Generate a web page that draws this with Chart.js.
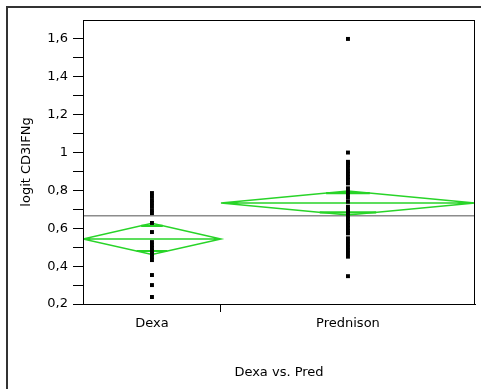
<!DOCTYPE html>
<html>
<head>
<meta charset="utf-8">
<script src="https://cdn.jsdelivr.net/npm/chart.js@4"></script>
<style>
html, body { margin: 0; padding: 0; background: #fff; overflow: hidden; }
#caixa { position: absolute; left: 0; top: 0; width: 481px; height: 389px; }
</style>
</head>
<body>
<div id="caixa"><canvas id="grafico"></canvas></div>
<script>
// dados
var grupos = ['Dexa', 'Prednison'];
var valoresDexa = [0.786, 0.768, 0.749, 0.733, 0.715, 0.696, 0.680, 0.628, 0.580,
    0.527, 0.511, 0.496, 0.480, 0.464, 0.448, 0.432, 0.353, 0.300, 0.237];
var valoresPred = [1.6, 1.0, 0.951, 0.943, 0.935, 0.919, 0.903, 0.887, 0.871, 0.855,
    0.837, 0.811, 0.793, 0.777, 0.761, 0.740, 0.714, 0.698, 0.690, 0.682, 0.666,
    0.650, 0.634, 0.618, 0.602, 0.586, 0.573, 0.547, 0.531, 0.515, 0.499, 0.483,
    0.467, 0.450, 0.347];
var medias = [0.543, 0.733];
var limiteSup = [0.626, 0.797];
var limiteInf = [0.462, 0.670];
var marcaSup = [0.613, 0.786];
var marcaInf = [0.480, 0.684];
var mediaGeral = 0.666;
var valoresTicksY = [0.2, 0.4, 0.6, 0.8, 1.0, 1.2, 1.4, 1.6];
var rotulosY = ['0,2', '0,4', '0,6', '0,8', '1', '1,2', '1,4', '1,6'];
var tituloY = 'logit CD3IFNg';
var tituloX = 'Dexa vs. Pred';

var verde = 'rgb(40,212,40)';
var amostras = [valoresDexa, valoresPred];
var total = valoresDexa.length + valoresPred.length;
var divisa = valoresDexa.length / total;
var inicios = [0, divisa];
var larguras = [divisa, 1 - divisa];
var centros = [divisa / 2, divisa + (1 - divisa) / 2];

var conjuntos = [];

// pontos (desenhados por cima)
for (let g = 0; g < grupos.length; g++) {
    conjuntos.push({
        type: 'scatter',
        data: amostras[g].map(v => ({ x: centros[g], y: v })),
        pointStyle: 'rect',
        pointRadius: 2.8,
        pointBorderWidth: 0,
        backgroundColor: '#000',
        borderColor: '#000'
    });
}

// losangos
for (let g = 0; g < grupos.length; g++) {
    var a = inicios[g], b = inicios[g] + larguras[g], c = centros[g];
    conjuntos.push({
        type: 'line',
        data: [{ x: a, y: medias[g] }, { x: c, y: limiteSup[g] }, { x: b, y: medias[g] },
               { x: c, y: limiteInf[g] }, { x: a, y: medias[g] },
               { x: null, y: null },
               { x: a, y: medias[g] }, { x: b, y: medias[g] }],
        borderColor: verde,
        borderWidth: 1.5,
        pointRadius: 0,
        spanGaps: false,
        tension: 0
    });
    var meia = larguras[g] / 2;
    var hs = meia * (1 - (marcaSup[g] - medias[g]) / (limiteSup[g] - medias[g]));
    var hi = meia * (1 - (medias[g] - marcaInf[g]) / (medias[g] - limiteInf[g]));
    conjuntos.push({
        type: 'line',
        data: [{ x: c - hs, y: marcaSup[g] }, { x: c + hs, y: marcaSup[g] },
               { x: null, y: null },
               { x: c - hi, y: marcaInf[g] }, { x: c + hi, y: marcaInf[g] }],
        borderColor: verde,
        borderWidth: 2.2,
        pointRadius: 0,
        spanGaps: false
    });
}

// media geral
conjuntos.push({
    type: 'line',
    data: [{ x: 0, y: mediaGeral }, { x: 1, y: mediaGeral }],
    borderColor: '#8c8c8c',
    borderWidth: 1.5,
    pointRadius: 0
});

var moldura = {
    id: 'moldura',
    beforeDraw: function(chart) {
        // linhas da janela (topo e esquerda)
        var ctx = chart.ctx;
        ctx.save();
        ctx.strokeStyle = '#333';
        ctx.lineWidth = 2;
        ctx.beginPath();
        ctx.moveTo(7, chart.height);
        ctx.lineTo(7, 7);
        ctx.lineTo(chart.width, 7);
        ctx.stroke();
        ctx.restore();
    },
    afterDraw: function(chart) {
        var ctx = chart.ctx, area = chart.chartArea;
        ctx.save();
        ctx.strokeStyle = '#000';
        ctx.lineWidth = 1;
        ctx.strokeRect(area.left + 0.5, area.top + 0.5, area.right - area.left - 1, area.bottom - area.top);
        ctx.restore();
    }
};

Chart.defaults.font.family = 'DejaVu Sans';
Chart.defaults.font.size = 13;
Chart.defaults.color = '#000';

var contexto = document.getElementById('grafico').getContext('2d');
var meuGrafico = new Chart(contexto, {
    type: 'scatter',
    data: { datasets: conjuntos },
    plugins: [moldura],
    options: {
        responsive: true,
        maintainAspectRatio: false,
        animation: false,
        layout: { padding: { left: 8, top: 20, right: 6, bottom: 0 } },
        plugins: { legend: { display: false }, tooltip: { enabled: false } },
        scales: {
            x: {
                type: 'linear',
                min: 0,
                max: 1,
                afterBuildTicks: function(escala) {
                    escala.ticks = [{ value: centros[0] }, { value: divisa }, { value: centros[1] }];
                },
                afterFit: function(escala) { escala.height = 85; },
                ticks: {
                    autoSkip: false,
                    maxRotation: 0,
                    padding: 4,
                    callback: function(valor, indice) {
                        if (indice === 0) return grupos[0];
                        if (indice === 2) return grupos[1];
                        return '';
                    }
                },
                grid: {
                    drawOnChartArea: false,
                    tickLength: 8,
                    tickColor: function(c) { return c.index === 1 ? '#000' : 'rgba(0,0,0,0)'; }
                },
                border: { color: '#000', width: 1 },
                title: { display: true, text: tituloX, padding: { top: 0, bottom: 9 } }
            },
            y: {
                type: 'linear',
                min: 0.2,
                max: 1.7,
                afterBuildTicks: function(escala) {
                    var lista = [];
                    for (let k = 2; k <= 16; k++) lista.push({ value: k / 10 });
                    escala.ticks = lista;
                },
                afterFit: function(escala) { escala.width = 75; },
                ticks: {
                    autoSkip: false,
                    padding: 5,
                    callback: function(valor) {
                        for (let i = 0; i < valoresTicksY.length; i++) {
                            if (Math.abs(valoresTicksY[i] - valor) < 1e-6) return rotulosY[i];
                        }
                        return '';
                    }
                },
                grid: {
                    drawOnChartArea: false,
                    tickLength: 10,
                    tickColor: '#000'
                },
                border: { color: '#000', width: 1 },
                title: { display: true, text: tituloY, padding: { top: 11, bottom: 0 } }
            }
        }
    }
});
</script>
</body>
</html>
